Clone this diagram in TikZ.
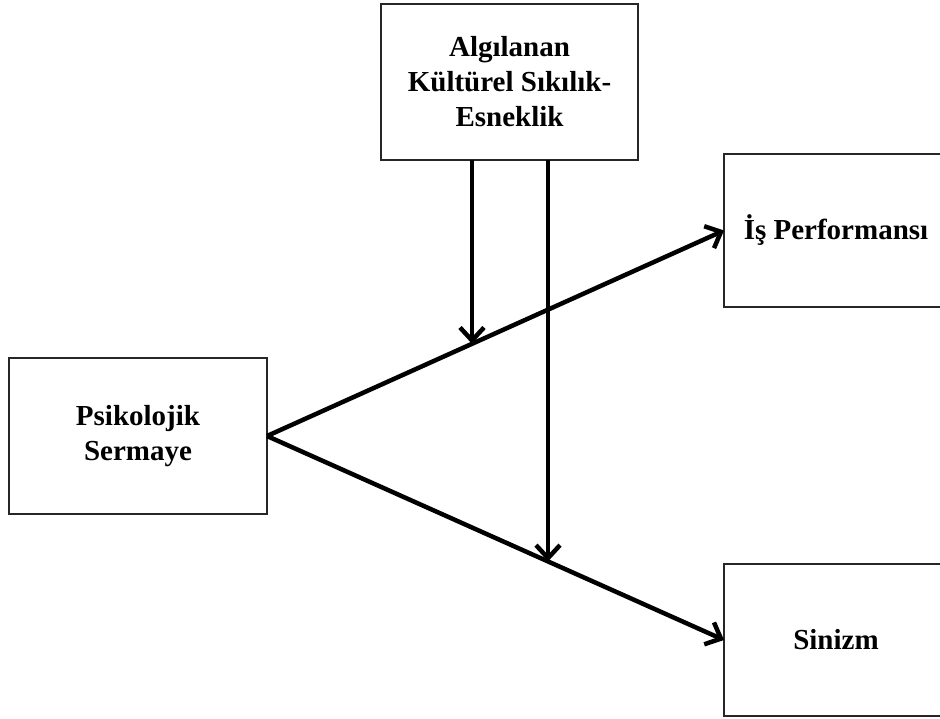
\documentclass[tikz,border=0pt]{standalone}
\usepackage{fontspec}
\setmainfont{Liberation Serif}
\usetikzlibrary{arrows.meta,calc}
\begin{document}
\begin{tikzpicture}[x=1pt,y=-1pt,
  box/.style={draw=black!85, line width=1.5pt, rectangle, inner sep=0pt, outer sep=0pt,
    align=center, font=\fontsize{29}{35}\selectfont\bfseries},
  arr/.style={line width=4.5pt, -{Straight Barb[length=13pt,width=24pt]}}]
\useasboundingbox (0,0) rectangle (940,718);
\node[box, minimum width=257pt, minimum height=156pt] (top) at (509.5,82) {Algılanan\\Kültürel Sıkılık-\\Esneklik};
\node[box, minimum width=258pt, minimum height=156pt] (ps) at (138,436) {Psikolojik\\Sermaye};
\node[box, minimum width=226pt, minimum height=153pt] (is) at (837,230.5) {\hspace*{-2pt}İş Performansı};
\node[box, minimum width=226pt, minimum height=152pt] (sin) at (837,640) {\hspace*{-2pt}Sinizm};
\draw[arr] (ps.east) -- (is.west);
\draw[arr] (ps.east) -- (sin.west);
\coordinate (m1) at ($(ps.east)!0.4486!(is.west)$);
\coordinate (m2) at ($(ps.east)!0.6149!(sin.west)$);
\draw[arr] (m1 |- top.south) -- (m1);
\draw[arr] (m2 |- top.south) -- (m2);
\end{tikzpicture}
\end{document}
